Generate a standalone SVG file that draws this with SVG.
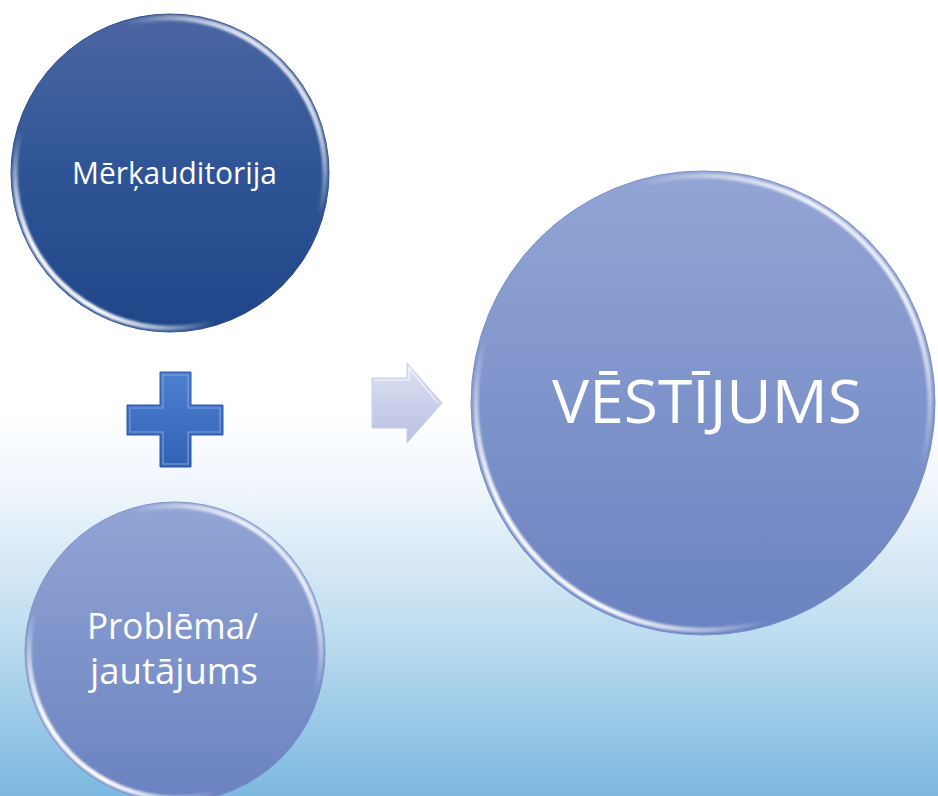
<svg xmlns="http://www.w3.org/2000/svg" width="938" height="796" viewBox="0 0 938 796">
<defs>
<linearGradient id="bg" x1="0" y1="0" x2="0" y2="796" gradientUnits="userSpaceOnUse">
<stop offset="0" stop-color="#ffffff"/>
<stop offset="0.52" stop-color="#ffffff"/>
<stop offset="0.62" stop-color="#eef5fb"/>
<stop offset="0.8" stop-color="#bcdcef"/>
<stop offset="1" stop-color="#7cb8e0"/>
</linearGradient>
<linearGradient id="dark" x1="0" y1="0" x2="0" y2="1">
<stop offset="0" stop-color="#4c66a3"/>
<stop offset="0.5" stop-color="#2e5495"/>
<stop offset="1" stop-color="#1f4689"/>
</linearGradient>
<linearGradient id="light" x1="0" y1="0" x2="0" y2="1">
<stop offset="0" stop-color="#93a5d5"/>
<stop offset="1" stop-color="#6a82c0"/>
</linearGradient>
<linearGradient id="rim" x1="0" y1="1" x2="1" y2="0">
<stop offset="0" stop-color="#fff" stop-opacity="0.2"/>
<stop offset="0.16" stop-color="#fff" stop-opacity="1"/>
<stop offset="0.33" stop-color="#fff" stop-opacity="0"/>
<stop offset="0.67" stop-color="#fff" stop-opacity="0"/>
<stop offset="0.84" stop-color="#fff" stop-opacity="0.85"/>
<stop offset="1" stop-color="#fff" stop-opacity="0.2"/>
</linearGradient>
<linearGradient id="plusg" x1="0" y1="0" x2="0" y2="1">
<stop offset="0" stop-color="#4f7fcf"/>
<stop offset="1" stop-color="#3262b4"/>
</linearGradient>
<linearGradient id="arrg" x1="0" y1="0" x2="0" y2="1">
<stop offset="0" stop-color="#dde1f3"/>
<stop offset="1" stop-color="#b9c1e2"/>
</linearGradient>
<filter id="soft" x="-10%" y="-10%" width="120%" height="120%">
<feGaussianBlur stdDeviation="1.3"/>
</filter>
<style>
.lbl{font-family:"Open Sans","Noto Sans",sans-serif;fill:#ffffff;text-anchor:middle}
.rim{fill:none;stroke:url(#rim);stroke-width:5;filter:url(#soft)}
</style>
</defs>
<rect x="0" y="0" width="938" height="796" fill="url(#bg)"/>

<g id="node-merkauditorija">
<circle cx="170" cy="173" r="159" fill="url(#dark)" stroke="#2d4d8a" stroke-width="1"/>
<circle class="rim" cx="170" cy="173" r="155"/>
<text class="lbl" x="174.5" y="184" font-size="31" textLength="205" lengthAdjust="spacingAndGlyphs">Mērķauditorija</text>
</g>

<g id="node-problema">
<circle cx="175" cy="652" r="150" fill="url(#light)" stroke="#7a90c8" stroke-width="1"/>
<circle class="rim" cx="175" cy="652" r="146"/>
<text class="lbl" x="172.5" y="639" font-size="36" textLength="171" lengthAdjust="spacingAndGlyphs">Problēma/</text>
<text class="lbl" x="174" y="684" font-size="36" textLength="168" lengthAdjust="spacingAndGlyphs">jautājums</text>
</g>

<g id="node-vestijums">
<circle cx="703" cy="403" r="232" fill="url(#light)" stroke="#7a90c8" stroke-width="1"/>
<circle class="rim" cx="703" cy="403" r="227"/>
<text class="lbl" x="707" y="423" font-size="60" textLength="310" lengthAdjust="spacingAndGlyphs">VĒSTĪJUMS</text>
</g>

<g id="connectors">
<g id="plus">
<path d="M160 372 H191 V405 H223 V435 H191 V467 H160 V435 H127 V405 H160 Z" fill="url(#plusg)" stroke="#2b57a8" stroke-width="1"/>
<path d="M163 375 H188 V408 H220 V432 H188 V464 H163 V432 H130 V408 H163 Z" fill="none" stroke="#7fa2dd" stroke-width="1.5" opacity="0.7"/>
</g>
<g id="arrow">
<polygon points="372,378 407,378 407,363 442,403 407,443 407,428 372,428" fill="url(#arrg)" stroke="#c9cfea" stroke-width="1"/>
<polyline points="374,380 409,380 409,368 438,403" fill="none" stroke="#ffffff" stroke-width="1.5" opacity="0.6"/>
</g>
</g>
</svg>
